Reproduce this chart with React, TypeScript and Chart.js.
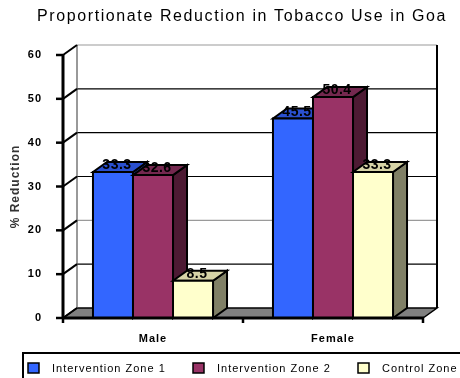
import React, { useEffect, useRef } from 'react';
import { Chart, registerables } from 'chart.js';

Chart.register(...registerables);

const titleText = 'Proportionate Reduction in Tobacco Use in Goa';
const yAxisTitle = '% Reduction';
const categories = ['Male', 'Female'];
const seriesNames = ['Intervention Zone 1', 'Intervention Zone 2', 'Control Zone'];
const zone1Values = [33.3, 45.5];
const zone2Values = [32.6, 50.4];
const controlValues = [8.5, 33.3];
const yMin = 0;
const yMax = 60;
const yStep = 10;

// styles
const FRONT = ['#3366FF', '#993366', '#FFFFCC'];
const TOP = ['#2a50d0', '#74284f', '#d6d3a6'];
const SIDE = ['#1f3d99', '#4d1a33', '#808066'];
const GRID_COLORS = ['#000000', '#000000', '#9a9a9a', '#000000', '#000000', '#000000', '#9a9a9a'];
const DX = 14;
const DY = -10;

function poly(ctx: CanvasRenderingContext2D, pts: number[][], fill: string | null, stroke: string | null, lw: number) {
  ctx.beginPath();
  ctx.moveTo(pts[0][0], pts[0][1]);
  for (let i = 1; i < pts.length; i++) ctx.lineTo(pts[i][0], pts[i][1]);
  ctx.closePath();
  if (fill) {
    ctx.fillStyle = fill;
    ctx.fill();
  }
  if (stroke) {
    ctx.strokeStyle = stroke;
    ctx.lineWidth = lw;
    ctx.lineJoin = 'miter';
    ctx.stroke();
  }
}

function line(ctx: CanvasRenderingContext2D, x1: number, y1: number, x2: number, y2: number, color: string, lw: number) {
  ctx.beginPath();
  ctx.moveTo(x1, y1);
  ctx.lineTo(x2, y2);
  ctx.strokeStyle = color;
  ctx.lineWidth = lw;
  ctx.stroke();
}

const threeDPlugin = {
  id: 'threeD',
  beforeDraw(chart: any) {
    chart.ctx.letterSpacing = '1px';
  },
  beforeDatasetsDraw(chart: any) {
    const { ctx, chartArea } = chart;
    const { left, right, top, bottom } = chartArea;
    const y = chart.scales.y;
    ctx.save();
    // floor
    poly(ctx, [[left, bottom], [right, bottom], [right + DX, bottom + DY], [left + DX, bottom + DY]], '#808080', '#000', 1.5);
    // back wall grid lines
    y.ticks.forEach((t: any, i: number) => {
      if (t.value === yMin) return;
      const yy = y.getPixelForValue(t.value) + DY;
      line(ctx, left + DX, yy, right + DX, yy, GRID_COLORS[i] || '#000', 1.2);
    });
    // wall edges
    line(ctx, left + DX, top + DY, left + DX, bottom + DY, '#555', 1.2);
    line(ctx, right + DX, top + DY, right + DX, bottom + DY, '#000', 2);
    // diagonals on the side wall
    y.ticks.forEach((t: any) => {
      const yy = y.getPixelForValue(t.value);
      line(ctx, left, yy, left + DX, yy + DY, '#000', 2);
    });
    ctx.restore();
  },
  afterDatasetsDraw(chart: any) {
    const { ctx, chartArea } = chart;
    const { left, right, top, bottom } = chartArea;
    const y = chart.scales.y;
    const nSets = chart.data.datasets.length;
    const nCats = chart.data.labels.length;
    ctx.save();
    const bars: any[] = [];
    for (let j = 0; j < nCats; j++) {
      for (let i = 0; i < nSets; i++) {
        const el = chart.getDatasetMeta(i).data[j];
        const p = el.getProps(['x', 'y', 'base', 'width'], true);
        const l = p.x - p.width / 2;
        const r = p.x + p.width / 2;
        const t = p.y;
        const b = p.base;
        poly(ctx, [[r, t], [r + DX, t + DY], [r + DX, b + DY], [r, b]], SIDE[i], '#000', 2);
        poly(ctx, [[l, t], [l + DX, t + DY], [r + DX, t + DY], [r, t]], TOP[i], '#000', 2);
        poly(ctx, [[l, t], [r, t], [r, b], [l, b]], FRONT[i], '#000', 2);
        bars.push({ x: p.x, t, v: chart.data.datasets[i].data[j] });
      }
    }
    // value labels
    ctx.fillStyle = '#000';
    ctx.letterSpacing = '0.5px';
    ctx.font = 'bold 14px "Liberation Sans", Arial, sans-serif';
    ctx.textAlign = 'center';
    ctx.textBaseline = 'alphabetic';
    bars.forEach((b) => {
      ctx.fillText(Number(b.v).toFixed(1), b.x + 4, b.t - 3);
    });
    // front axes
    line(ctx, left, top - 1, left, bottom + 1, '#000', 3);
    y.ticks.forEach((t: any) => {
      const yy = y.getPixelForValue(t.value);
      line(ctx, left - 7, yy, left, yy, '#000', 2.5);
    });
    line(ctx, left - 1, bottom, right + 1, bottom, '#000', 3);
    for (let k = 0; k <= nCats; k++) {
      const xx = left + (k * (right - left)) / nCats;
      line(ctx, xx, bottom, xx, bottom + 5, '#000', 2.5);
    }
    ctx.restore();
  },
  afterDraw(chart: any) {
    const { ctx } = chart;
    ctx.save();
    // title
    ctx.letterSpacing = '1.6px';
    ctx.fillStyle = '#000';
    ctx.font = '16px "Liberation Sans", Arial, sans-serif';
    ctx.textAlign = 'center';
    ctx.textBaseline = 'middle';
    ctx.fillText(titleText, 242, 17);
    // legend
    ctx.letterSpacing = '1px';
    ctx.strokeStyle = '#000';
    ctx.lineWidth = 2;
    ctx.strokeRect(23, 353, 460, 40);
    const boxX = [28, 193, 358];
    ctx.font = '11px "Liberation Sans", Arial, sans-serif';
    ctx.textAlign = 'left';
    ctx.textBaseline = 'middle';
    chart.data.datasets.forEach((ds: any, i: number) => {
      ctx.fillStyle = FRONT[i];
      ctx.fillRect(boxX[i], 363, 11, 10);
      ctx.lineWidth = 1.5;
      ctx.strokeStyle = '#000';
      ctx.strokeRect(boxX[i], 363, 11, 10);
      ctx.fillStyle = '#000';
      ctx.fillText(ds.label, boxX[i] + 24, 368.5);
    });
    ctx.restore();
  },
};

export default function App() {
  const ref = useRef<HTMLCanvasElement>(null);
  useEffect(() => {
    if (!ref.current) return;
    const chart = new Chart(ref.current, {
      type: 'bar',
      data: {
        labels: categories,
        datasets: [
          { label: seriesNames[0], data: zone1Values, backgroundColor: 'transparent', borderWidth: 0 },
          { label: seriesNames[1], data: zone2Values, backgroundColor: 'transparent', borderWidth: 0 },
          { label: seriesNames[2], data: controlValues, backgroundColor: 'transparent', borderWidth: 0 },
        ],
      },
      options: {
        responsive: false,
        animation: false,
        devicePixelRatio: 1,
        layout: { padding: { top: 55, right: 37, bottom: 26, left: 0 } },
        datasets: { bar: { categoryPercentage: 0.667, barPercentage: 1 } },
        plugins: {
          legend: { display: false },
          title: { display: false },
          tooltip: { enabled: false },
        },
        scales: {
          x: {
            grid: { display: false },
            border: { display: false },
            ticks: {
              color: '#000',
              padding: 6,
              font: { family: '"Liberation Sans", Arial, sans-serif', size: 11, weight: 'bold' },
            },
            afterFit: (s: any) => {
              s.height = 34;
            },
          },
          y: {
            min: yMin,
            max: yMax,
            grid: { display: false },
            border: { display: false },
            ticks: {
              stepSize: yStep,
              color: '#000',
              padding: 13,
              font: { family: '"Liberation Sans", Arial, sans-serif', size: 11, weight: 'bold' },
            },
            title: {
              display: true,
              text: yAxisTitle,
              color: '#333',
              padding: { top: 8, bottom: 0 },
              font: { family: '"Liberation Sans", Arial, sans-serif', size: 12, weight: 'bold' },
            },
            afterFit: (s: any) => {
              s.width = 63;
            },
          },
        },
      },
      plugins: [threeDPlugin],
    } as any);
    return () => chart.destroy();
  }, []);
  return (
    <div style={{ position: 'fixed', left: 0, top: 0, width: 460, height: 378, background: '#fff' }}>
      <canvas ref={ref} width={460} height={378} />
    </div>
  );
}
